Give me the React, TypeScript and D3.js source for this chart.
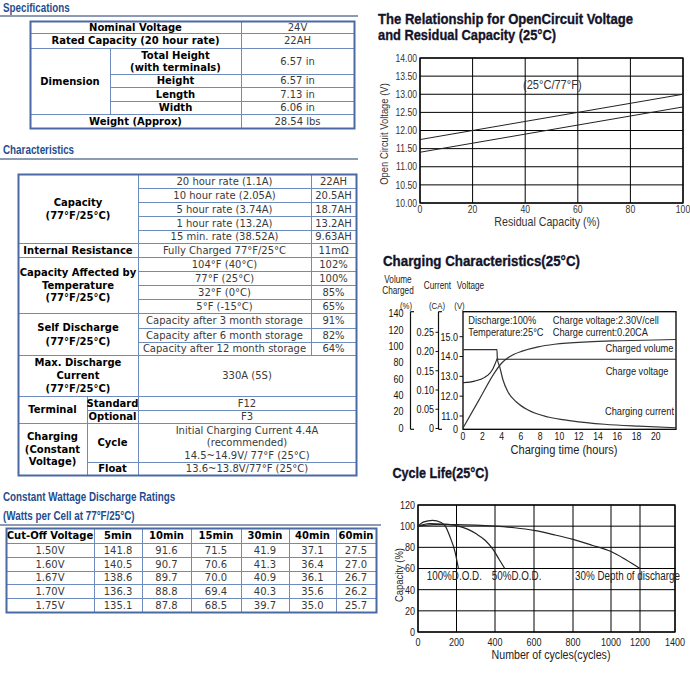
import React from 'react';
import * as d3 from 'd3';

// ---------------- Specifications ----------------
const specMainLabels = ["Nominal Voltage", "Rated Capacity (20 hour rate)"];
const specMainValues = ["24V", "22AH"];
const dimensionGroup = "Dimension";
const dimensionLabels = [["Total Height", "(with terminals)"], ["Height"], ["Length"], ["Width"]];
const dimensionValues = ["6.57 in", "6.57 in", "7.13 in", "6.06 in"];
const weightLabel = "Weight (Approx)";
const weightValue = "28.54 lbs";

// ---------------- Characteristics ----------------
const capacityGroup = ["Capacity", "(77°F/25°C)"];
const capacityRates = ["20 hour rate (1.1A)", "10 hour rate (2.05A)", "5 hour rate (3.74A)", "1 hour rate (13.2A)", "15 min. rate (38.52A)"];
const capacityValues = ["22AH", "20.5AH", "18.7AH", "13.2AH", "9.63AH"];
const resistanceLabel = "Internal Resistance";
const resistanceCondition = "Fully Charged 77°F/25°C";
const resistanceValue = "11mΩ";
const tempGroup = ["Capacity Affected by", "Temperature", "(77°F/25°C)"];
const tempConditions = ["104°F (40°C)", "77°F (25°C)", "32°F (0°C)", "5°F (-15°C)"];
const tempValues = ["102%", "100%", "85%", "65%"];
const selfGroup = ["Self Discharge", "(77°F/25°C)"];
const selfConditions = ["Capacity after 3 month storage", "Capacity after 6 month storage", "Capacity after 12 month storage"];
const selfValues = ["91%", "82%", "64%"];
const maxDischargeGroup = ["Max. Discharge", "Current", "(77°F/25°C)"];
const maxDischargeValue = "330A (5S)";
const terminalGroup = "Terminal";
const terminalTypes = ["Standard", "Optional"];
const terminalValues = ["F12", "F3"];
const chargingGroup = ["Charging", "(Constant", "Voltage)"];
const chargingModes = ["Cycle", "Float"];
const chargingValues = [["Initial Charging Current 4.4A", "(recommended)", "14.5~14.9V/ 77°F (25°C)"], ["13.6~13.8V/77°F (25°C)"]];

// ---------------- Constant wattage ----------------
const cwHeaders = ["Cut-Off Voltage", "5min", "10min", "15min", "30min", "40min", "60min"];
const cwVoltages = ["1.50V", "1.60V", "1.67V", "1.70V", "1.75V"];
const cw5min = [141.8, 140.5, 138.6, 136.3, 135.1];
const cw10min = [91.6, 90.7, 89.7, 88.8, 87.8];
const cw15min = [71.5, 70.6, 70.0, 69.4, 68.5];
const cw30min = [41.9, 41.3, 40.9, 40.3, 39.7];
const cw40min = [37.1, 36.4, 36.1, 35.6, 35.0];
const cw60min = [27.5, 27.0, 26.7, 26.2, 25.7];

// ---------------- OCV chart ----------------
const ocvXTicks = [0, 20, 40, 60, 80, 100];
const ocvYTicks = [10, 10.5, 11, 11.5, 12, 12.5, 13, 13.5, 14];
const ocvUpper = [[0, 11.75], [100, 13.0]];
const ocvLower = [[0, 11.4], [100, 12.65]];

// ---------------- Charging chart ----------------
const hourTicks = [0, 2, 4, 6, 8, 10, 12, 14, 16, 18, 20];
const voltTicks = [11, 12, 13, 14, 15];
const currentTicks = [0, 0.05, 0.1, 0.15, 0.2, 0.25];
const volumeTicks = [0, 20, 40, 60, 80, 100, 120, 140];
const chargeVoltage = [[0, 12.68], [1.2, 12.76], [2.25, 12.95], [2.77, 13.15], [3.12, 13.4], [3.36, 13.66], [3.57, 13.9], [3.7, 13.86], [22.1, 13.86]];
const chargeCurrent = [[0, 0.205], [3.52, 0.205], [3.57, 0.18], [3.81, 0.16], [4.15, 0.126], [4.67, 0.095], [5.54, 0.069], [6.75, 0.048], [8.83, 0.030], [11.26, 0.020], [14.7, 0.011], [18.2, 0.006], [22.1, 0.002]];
const chargedVolume = [[0, 0], [1.65, 34], [3.3, 68], [4.0, 79], [4.7, 86], [5.3, 90], [6.06, 93.5], [7.8, 99], [9.5, 102.2], [13, 105.2], [16.4, 106.5], [22.1, 108]];

// ---------------- Cycle life chart ----------------
const cycleTicks = [0, 200, 400, 600, 800, 1000, 1200, 1400];
const capacityTicks = [0, 20, 40, 60, 80, 100, 120];
const dod100 = [[0, 100], [30, 104], [75, 105.5], [120, 103.5], [142, 100], [166, 90], [192, 76], [210, 60]];
const dod50 = [[0, 100], [60, 102.5], [130, 102], [200, 100.5], [260, 97], [300, 93], [350, 86.5], [390, 78], [420, 69], [450, 60]];
const dod30 = [[0, 100], [80, 101.5], [200, 101.5], [300, 101], [400, 100], [500, 98.5], [600, 96], [700, 92], [800, 87.5], [900, 82], [1000, 76], [1100, 68.5], [1200, 60]];

const TABLE_FONT = "'DejaVu Sans', Verdana, sans-serif";
const ARIAL = "'Liberation Sans', Arial, sans-serif";
const SQUEEZE = 0.82;
const INNER = "#6e8bc0";
const OUTER = "#4b69a3";
const TITLE_BLUE = "#1f4d8f";
const HEAD_DARK = "#13132a";

// narrow text: Liberation Sans squeezed horizontally to imitate a narrow face
type NTProps = { x: number; y: number; size: number; anchor?: 'start' | 'middle' | 'end'; weight?: string; fill?: string; rotate?: number; dy?: string; children: React.ReactNode };
function NT({ x, y, size, anchor = 'start', weight = 'normal', fill = '#222', rotate, dy, children }: NTProps) {
  const tr = `translate(${x},${y})${rotate ? ` rotate(${rotate})` : ''} scale(${SQUEEZE},1)`;
  return (
    <text transform={tr} x={0} y={0} dy={dy} textAnchor={anchor} fontFamily={ARIAL} fontSize={size} fontWeight={weight} fill={fill}>{children}</text>
  );
}

type CellProps = { x0: number; x1: number; y0: number; y1: number; lines: string[]; bold?: boolean; lh?: number; fill?: string };
function Cell({ x0, x1, y0, y1, lines, bold = false, lh = 12.5, fill }: CellProps) {
  const cx = (x0 + x1) / 2, cy = (y0 + y1) / 2, n = lines.length;
  return (
    <g>
      <rect x={x0 + 0.5} y={y0 + 0.5} width={x1 - x0} height={y1 - y0} fill="none" stroke={INNER} strokeWidth={1} />
      <text textAnchor="middle" fontFamily={TABLE_FONT} fontSize={10} fontWeight={bold ? 'bold' : 'normal'} fill={fill ?? (bold ? '#000' : '#3a3a3a')}>
        {lines.map((t, i) => (
          <tspan key={i} x={cx} y={cy + (i - (n - 1) / 2) * lh + 3.6}>{t}</tspan>
        ))}
      </text>
    </g>
  );
}

function Frame({ x0, x1, y0, y1 }: { x0: number; x1: number; y0: number; y1: number }) {
  return <rect x={x0 + 0.5} y={y0 + 0.5} width={x1 - x0} height={y1 - y0} fill="none" stroke={OUTER} strokeWidth={2} />;
}

function SectionTitle({ x, y, text, lineY, lineX1 }: { x: number; y: number; text: string; lineY?: number; lineX1?: number }) {
  return (
    <g>
      <NT x={x} y={y} size={12} weight="bold" fill={TITLE_BLUE}>{text}</NT>
      {lineY !== undefined && <line x1={0} x2={lineX1} y1={lineY} y2={lineY} stroke="#8d9ab3" strokeWidth={2} />}
    </g>
  );
}

function SpecSection() {
  const c = [30, 110, 241, 354];
  const r = [21, 33, 48, 74, 87, 101, 114, 128];
  const cells: React.ReactNode[] = [];
  specMainLabels.forEach((lab, i) => {
    cells.push(<Cell key={'sl' + i} x0={c[0]} x1={c[2]} y0={r[i]} y1={r[i + 1]} lines={[lab]} bold />);
    cells.push(<Cell key={'sv' + i} x0={c[2]} x1={c[3]} y0={r[i]} y1={r[i + 1]} lines={[specMainValues[i]]} />);
  });
  cells.push(<Cell key="dim" x0={c[0]} x1={c[1]} y0={r[2]} y1={r[6]} lines={[dimensionGroup]} bold />);
  dimensionLabels.forEach((lines, i) => {
    cells.push(<Cell key={'dl' + i} x0={c[1]} x1={c[2]} y0={r[2 + i]} y1={r[3 + i]} lines={lines} bold lh={12} />);
    cells.push(<Cell key={'dv' + i} x0={c[2]} x1={c[3]} y0={r[2 + i]} y1={r[3 + i]} lines={[dimensionValues[i]]} />);
  });
  cells.push(<Cell key="wl" x0={c[0]} x1={c[2]} y0={r[6]} y1={r[7]} lines={[weightLabel]} bold />);
  cells.push(<Cell key="wv" x0={c[2]} x1={c[3]} y0={r[6]} y1={r[7]} lines={[weightValue]} />);
  return (
    <g>
      <SectionTitle x={3} y={12} text="Specifications" lineY={16} lineX1={358} />
      {cells}
      <Frame x0={c[0]} x1={c[3]} y0={r[0]} y1={r[r.length - 1]} />
    </g>
  );
}

function CharSection() {
  const c = [18, 87, 138, 311, 356];
  const cells: React.ReactNode[] = [];
  const capRows = [174, 188, 202, 216, 230, 243];
  cells.push(<Cell key="capg" x0={c[0]} x1={c[2]} y0={capRows[0]} y1={capRows[5]} lines={capacityGroup} bold lh={13} />);
  capacityRates.forEach((t, i) => {
    cells.push(<Cell key={'cr' + i} x0={c[2]} x1={c[3]} y0={capRows[i]} y1={capRows[i + 1]} lines={[t]} />);
    cells.push(<Cell key={'cv' + i} x0={c[3]} x1={c[4]} y0={capRows[i]} y1={capRows[i + 1]} lines={[capacityValues[i]]} />);
  });
  cells.push(<Cell key="irl" x0={c[0]} x1={c[2]} y0={243} y1={257} lines={[resistanceLabel]} bold />);
  cells.push(<Cell key="irc" x0={c[2]} x1={c[3]} y0={243} y1={257} lines={[resistanceCondition]} />);
  cells.push(<Cell key="irv" x0={c[3]} x1={c[4]} y0={243} y1={257} lines={[resistanceValue]} />);
  const tRows = [257, 271, 285, 299, 313];
  cells.push(<Cell key="tg" x0={c[0]} x1={c[2]} y0={tRows[0]} y1={tRows[4]} lines={tempGroup} bold lh={12.5} />);
  tempConditions.forEach((t, i) => {
    cells.push(<Cell key={'tc' + i} x0={c[2]} x1={c[3]} y0={tRows[i]} y1={tRows[i + 1]} lines={[t]} />);
    cells.push(<Cell key={'tv' + i} x0={c[3]} x1={c[4]} y0={tRows[i]} y1={tRows[i + 1]} lines={[tempValues[i]]} />);
  });
  const sRows = [313, 328, 342, 355];
  cells.push(<Cell key="sg" x0={c[0]} x1={c[2]} y0={sRows[0]} y1={sRows[3]} lines={selfGroup} bold lh={14} />);
  selfConditions.forEach((t, i) => {
    cells.push(<Cell key={'sc' + i} x0={c[2]} x1={c[3]} y0={sRows[i]} y1={sRows[i + 1]} lines={[t]} />);
    cells.push(<Cell key={'sv' + i} x0={c[3]} x1={c[4]} y0={sRows[i]} y1={sRows[i + 1]} lines={[selfValues[i]]} />);
  });
  cells.push(<Cell key="mg" x0={c[0]} x1={c[2]} y0={355} y1={396} lines={maxDischargeGroup} bold lh={13} />);
  cells.push(<Cell key="mv" x0={c[2]} x1={c[4]} y0={355} y1={396} lines={[maxDischargeValue]} />);
  const tmRows = [396, 410, 423];
  cells.push(<Cell key="tmg" x0={c[0]} x1={c[1]} y0={tmRows[0]} y1={tmRows[2]} lines={[terminalGroup]} bold />);
  terminalTypes.forEach((t, i) => {
    cells.push(<Cell key={'tmt' + i} x0={c[1]} x1={c[2]} y0={tmRows[i]} y1={tmRows[i + 1]} lines={[t]} bold />);
    cells.push(<Cell key={'tmv' + i} x0={c[2]} x1={c[4]} y0={tmRows[i]} y1={tmRows[i + 1]} lines={[terminalValues[i]]} />);
  });
  const chRows = [423, 462, 475];
  cells.push(<Cell key="chg" x0={c[0]} x1={c[1]} y0={chRows[0]} y1={chRows[2]} lines={chargingGroup} bold lh={12.3} />);
  chargingModes.forEach((t, i) => {
    cells.push(<Cell key={'chm' + i} x0={c[1]} x1={c[2]} y0={chRows[i]} y1={chRows[i + 1]} lines={[t]} bold />);
    cells.push(<Cell key={'chv' + i} x0={c[2]} x1={c[4]} y0={chRows[i]} y1={chRows[i + 1]} lines={chargingValues[i]} lh={12.5} />);
  });
  return (
    <g>
      <SectionTitle x={3} y={154} text="Characteristics" lineY={159} lineX1={358} />
      {cells}
      <Frame x0={c[0]} x1={c[4]} y0={174} y1={475} />
    </g>
  );
}

function WattSection() {
  const c = [6, 94, 142, 191, 241, 289, 336, 376];
  const r = [528, 543, 557, 571, 584, 598, 612];
  const cols = [cw5min, cw10min, cw15min, cw30min, cw40min, cw60min];
  const cells: React.ReactNode[] = [];
  cwHeaders.forEach((h, j) => {
    cells.push(<Cell key={'h' + j} x0={c[j]} x1={c[j + 1]} y0={r[0]} y1={r[1]} lines={[h]} bold />);
  });
  cwVoltages.forEach((v, i) => {
    cells.push(<Cell key={'v' + i} x0={c[0]} x1={c[1]} y0={r[i + 1]} y1={r[i + 2]} lines={[v]} />);
    cols.forEach((col, j) => {
      cells.push(<Cell key={'d' + i + '_' + j} x0={c[j + 1]} x1={c[j + 2]} y0={r[i + 1]} y1={r[i + 2]} lines={[col[i].toFixed(1)]} />);
    });
  });
  return (
    <g>
      <SectionTitle x={3} y={501} text="Constant Wattage Discharge Ratings" />
      <SectionTitle x={3} y={520} text="(Watts per Cell at 77°F/25°C)" lineY={525} lineX1={381} />
      {cells}
      <Frame x0={c[0]} x1={c[7]} y0={r[0]} y1={r[6]} />
    </g>
  );
}

function HeavyTitle({ x, y, text, len, size = 15.5 }: { x: number; y: number; text: string; len: number; size?: number }) {
  return (
    <text x={x} y={y} fontFamily={ARIAL} fontWeight="bold" fontSize={size} fill={HEAD_DARK} stroke={HEAD_DARK} strokeWidth={0.35}
      textLength={len} lengthAdjust="spacingAndGlyphs">{text}</text>
  );
}

function OcvChart() {
  const x = d3.scaleLinear().domain([0, 100]).range([420, 683]);
  const y = d3.scaleLinear().domain([10, 14]).range([203, 58]);
  const line = d3.line<number[]>().x(d => x(d[0])).y(d => y(d[1]));
  return (
    <g>
      <HeavyTitle x={378} y={23.5} text="The Relationship for OpenCircuit Voltage" len={255} />
      <HeavyTitle x={378} y={39.5} text="and Residual Capacity (25°C)" len={178} />
      {ocvXTicks.map(t => <line key={'gx' + t} x1={x(t)} x2={x(t)} y1={y(10)} y2={y(14)} stroke="#000" strokeWidth={1} />)}
      {ocvYTicks.map(t => <line key={'gy' + t} x1={x(0)} x2={x(100)} y1={y(t)} y2={y(t)} stroke="#000" strokeWidth={1} />)}
      <rect x={x(0)} y={y(14)} width={x(100) - x(0)} height={y(10) - y(14)} fill="none" stroke="#000" strokeWidth={1.3} />
      <path d={line(ocvUpper) || ''} fill="none" stroke="#222" strokeWidth={1} />
      <path d={line(ocvLower) || ''} fill="none" stroke="#222" strokeWidth={1} />
      {ocvYTicks.map(t => <NT key={'ly' + t} x={417} y={y(t)} dy="0.35em" anchor="end" size={10.5} fill="#333">{t.toFixed(2)}</NT>)}
      {ocvXTicks.map(t => <NT key={'lx' + t} x={x(t)} y={213} anchor="middle" size={10.5} fill="#333">{t}</NT>)}
      <NT x={547} y={226} anchor="middle" size={13} fill="#333">Residual Capacity (%)</NT>
      <NT x={387.5} y={134} rotate={-90} anchor="middle" size={11.5} fill="#333">Open Circuit Voltage (V)</NT>
      <NT x={523} y={88.5} size={13.5} fill="#333">(25°C/77°F)</NT>
    </g>
  );
}

function ChargeChart() {
  const x = d3.scaleLinear().domain([0, 22.1]).range([463, 676]);
  const yV = d3.scaleLinear().domain([11, 15]).range([416, 336.7]);
  const yC = d3.scaleLinear().domain([0, 0.25]).range([428.5, 332.3]);
  const yP = d3.scaleLinear().domain([0, 140]).range([428, 313.3]);
  const top = 311.7, bottom = 429.3;
  const lv = d3.line<number[]>().x(d => x(d[0])).y(d => yV(d[1])).curve(d3.curveMonotoneX);
  const lc = d3.line<number[]>().x(d => x(d[0])).y(d => yC(d[1])).curve(d3.curveMonotoneX);
  const lp = d3.line<number[]>().x(d => x(d[0])).y(d => yP(d[1])).curve(d3.curveMonotoneX);
  const fs = 11;
  return (
    <g>
      <HeavyTitle x={383} y={266} text="Charging Characteristics(25°C)" len={197} size={15} />
      <NT x={398} y={282.5} anchor="middle" size={10} fill="#222">Volume</NT>
      <NT x={398} y={293.5} anchor="middle" size={10} fill="#222">Charged</NT>
      <NT x={437.5} y={289} anchor="middle" size={10} fill="#222">Current</NT>
      <NT x={470.5} y={289} anchor="middle" size={10} fill="#222">Voltage</NT>
      <NT x={406} y={308.5} anchor="middle" size={9.5} fill="#222">(%)</NT>
      <NT x={437} y={308.5} anchor="middle" size={9.5} fill="#222">(CA)</NT>
      <NT x={459.5} y={308.5} anchor="middle" size={9.5} fill="#222">(V)</NT>
      {/* volume axis */}
      <line x1={410.5} x2={410.5} y1={top} y2={bottom} stroke="#111" strokeWidth={1.2} />
      <line x1={410.5} x2={414} y1={top} y2={top} stroke="#111" strokeWidth={1.2} />
      <line x1={410.5} x2={414} y1={bottom} y2={bottom} stroke="#111" strokeWidth={1.2} />
      {volumeTicks.map(t => <NT key={'vp' + t} x={403.5} y={yP(t)} dy="0.35em" anchor="end" size={fs} fill="#111">{t}</NT>)}
      {/* current axis */}
      <line x1={438.5} x2={438.5} y1={top} y2={bottom} stroke="#111" strokeWidth={1.2} />
      <line x1={438.5} x2={442} y1={top} y2={top} stroke="#111" strokeWidth={1.2} />
      <line x1={438.5} x2={442} y1={bottom} y2={bottom} stroke="#111" strokeWidth={1.2} />
      {currentTicks.map(t => (
        <g key={'cc' + t}>
          <line x1={435.5} x2={438.5} y1={yC(t)} y2={yC(t)} stroke="#111" />
          <NT x={434} y={yC(t)} dy="0.35em" anchor="end" size={fs} fill="#111">{t === 0 ? '0' : t.toFixed(2)}</NT>
        </g>
      ))}
      {/* voltage labels */}
      {voltTicks.map(t => (
        <g key={'vv' + t}>
          <line x1={459.5} x2={463} y1={yV(t)} y2={yV(t)} stroke="#111" />
          <NT x={458} y={yV(t)} dy="0.35em" anchor="end" size={fs} fill="#111">{t.toFixed(1)}</NT>
        </g>
      ))}
      <NT x={458} y={bottom} dy="0.35em" anchor="end" size={fs} fill="#111">0</NT>
      {/* box */}
      <rect x={x(0)} y={top} width={x(22.1) - x(0)} height={bottom - top} fill="none" stroke="#000" strokeWidth={1.3} />
      {hourTicks.map(t => <NT key={'h' + t} x={x(t)} y={439.5} anchor="middle" size={10.5} fill="#111">{t}</NT>)}
      <NT x={564} y={454} anchor="middle" size={13.5} fill="#222">Charging time (hours)</NT>
      {/* curves */}
      <path d={lp(chargedVolume) || ''} fill="none" stroke="#333" strokeWidth={1.2} />
      <path d={lv(chargeVoltage) || ''} fill="none" stroke="#222" strokeWidth={1.1} />
      <path d={lc(chargeCurrent) || ''} fill="none" stroke="#333" strokeWidth={1.2} />
      {/* annotations */}
      <NT x={468.3} y={323.5} size={11.3}>Discharge:100%</NT>
      <NT x={552.7} y={323.5} size={11.3}>Charge voltage:2.30V/cell</NT>
      <NT x={468.3} y={335.5} size={11.3}>Temperature:25°C</NT>
      <NT x={552.7} y={335.5} size={11.3}>Charge current:0.20CA</NT>
      <NT x={673.5} y={351.5} anchor="end" size={11.3}>Charged volume</NT>
      <NT x={668.5} y={374.5} anchor="end" size={11.3}>Charge voltage</NT>
      <NT x={674} y={414.5} anchor="end" size={11.3}>Charging current</NT>
    </g>
  );
}

function CycleChart() {
  const x = d3.scaleLinear().domain(cycleTicks).range([418, 456.5, 495, 534, 573, 611, 640, 675]);
  const y = d3.scaleLinear().domain([0, 120]).range([632, 505]);
  const line = d3.line<number[]>().x(d => x(d[0])).y(d => y(d[1])).curve(d3.curveMonotoneX);
  return (
    <g>
      <HeavyTitle x={392.5} y={478} text="Cycle Life(25°C)" len={96} size={14.5} />
      {cycleTicks.map(t => <line key={'gx' + t} x1={x(t)} x2={x(t)} y1={y(0)} y2={y(120)} stroke="#000" strokeWidth={1} />)}
      {capacityTicks.map(t => <line key={'gy' + t} x1={x(0)} x2={x(1400)} y1={y(t)} y2={y(t)} stroke="#000" strokeWidth={1} />)}
      <rect x={x(0)} y={y(120)} width={x(1400) - x(0)} height={y(0) - y(120)} fill="none" stroke="#000" strokeWidth={1.3} />
      <path d={line(dod100) || ''} fill="none" stroke="#222" strokeWidth={1.2} />
      <path d={line(dod50) || ''} fill="none" stroke="#222" strokeWidth={1.2} />
      <path d={line(dod30) || ''} fill="none" stroke="#222" strokeWidth={1.2} />
      {capacityTicks.map(t => <NT key={'ly' + t} x={415} y={y(t)} dy="0.35em" anchor="end" size={11} fill="#222">{t}</NT>)}
      {cycleTicks.map(t => <NT key={'lx' + t} x={x(t)} y={646} anchor="middle" size={11} fill="#222">{t}</NT>)}
      <NT x={551} y={659} anchor="middle" size={13} fill="#222">Number of cycles(cycles)</NT>
      <NT x={402.5} y={575} rotate={-90} anchor="middle" size={11.5} fill="#222">Capacity (%)</NT>
      <NT x={426.7} y={580} size={12}>100%D.O.D.</NT>
      <NT x={491.7} y={580} size={12}>50%D.O.D.</NT>
      <NT x={575} y={580} size={12}>30% Depth of discharge</NT>
    </g>
  );
}

export default function App() {
  return (
    <svg width={690} height={684} style={{ position: 'absolute', left: 0, top: 0, background: '#fff' }}>
      <rect width={690} height={684} fill="#fff" />
      <SpecSection />
      <CharSection />
      <WattSection />
      <OcvChart />
      <ChargeChart />
      <CycleChart />
    </svg>
  );
}
